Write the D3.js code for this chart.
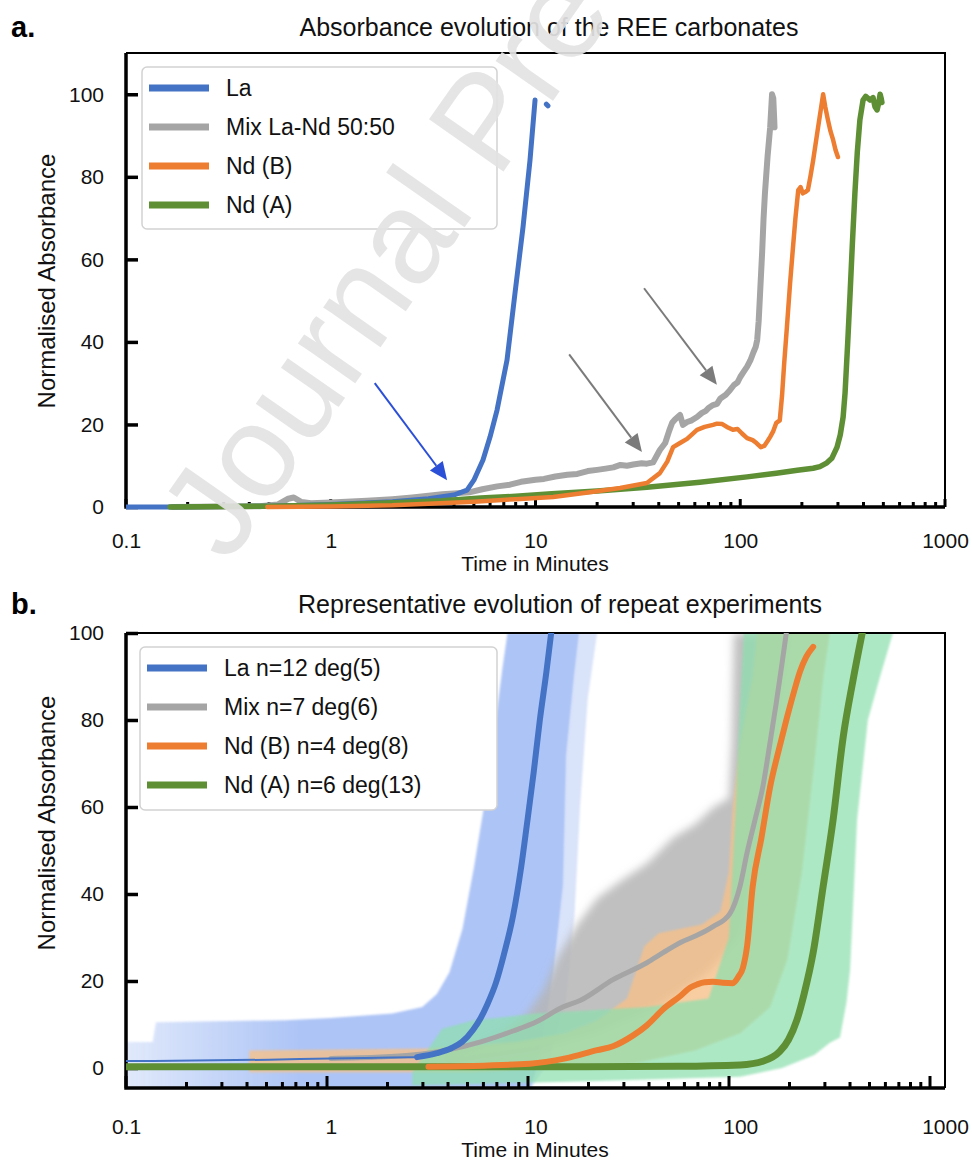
<!DOCTYPE html>
<html>
<head>
<meta charset="utf-8">
<title>REE carbonate absorbance</title>
<script src="https://cdn.jsdelivr.net/npm/d3@7/dist/d3.min.js"></script>
<style>
  body { margin: 0; background: #fff; }
  svg { display: block; font-family: "Liberation Sans", Arial, Helvetica, sans-serif; }
</style>
</head>
<body>
<svg id="chart" width="972" height="1160"></svg>
<script>
// ---- panel a: single runs, [minutes, normalised absorbance] ----
const laRun = [[0.1,0],[0.16,0],[0.5,0.2],[1,0.6],[2,1.3],[3,2.0],[4,2.9],[4.63,4.1],[5.0,6.5],[5.54,11.4],
  [6.0,17],[6.49,23.5],[7.26,35.6],[7.94,51.8],[8.69,67.8],[9.4,84],[9.95,98.6],[10.6,null],[11.3,97.6],[11.5,97.2]];
const mixRun = [[0.17,0],[0.45,0.2],[0.55,0.6],[0.62,2.0],[0.66,2.3],[0.72,1.2],[0.8,0.9],[1,1.1],[1.5,1.5],[2,1.9],
  [2.5,2.3],[3,2.7],[3.5,3.1],[4,3.3],[4.8,3.6],[5.5,4.3],[6.5,5.0],[7.5,5.4],[8.5,6.1],[10,6.6],[11,6.8],[12.5,7.4],
  [14.3,7.8],[16,8.0],[18,8.7],[20,9.0],[22,9.3],[24,9.6],[26,10.2],[28,10.0],[30,10.3],[33,10.6],[35,10.5],[37.5,10.8],
  [40.5,13.8],[43,15.5],[45,18.5],[46.5,20.4],[48,21.2],[50.8,22.3],[52.5,19.9],[55,20.6],[58,21.0],[61.5,21.8],
  [65,22.8],[68,23.3],[70,24.0],[73.6,24.7],[77,25.0],[80,26.3],[85,27.2],[89,28.3],[93,29.5],[97,30.2],[100,31.5],
  [104,32.8],[108,34.0],[112,35.5],[116,37.5],[119,38.8],[121,40.5],[123,45],[125,51.8],[128,62],[130,70],[132,76],
  [136,85],[140,92],[143,100],[145,99],[146.5,94],[147,92]];
const ndBRun = [[0.49,0],[1,0.1],[2,0.4],[3,0.8],[5,1.3],[8,1.9],[12.2,2.4],[18,3.5],[25.9,4.6],[35,5.8],[40.5,8.2],
  [44,11],[47,14.5],[50.8,15.5],[55,16.5],[61.5,18.7],[67,19.4],[73.6,19.9],[77,20.2],[81.7,20.1],[86,19.4],[92,18.7],
  [97,18.9],[102,17.8],[108,16.7],[115,16.2],[120,15.5],[126,14.5],[131,14.8],[136,16.0],[140,17],[145,18.4],[150,20.4],
  [156,21],[160,27],[164,35],[169,43.6],[175,54],[181,63],[186,70],[192,76.8],[197,77.5],[202,76],[208,76.3],[214,76.8],
  [220,80],[227,84],[240,92],[254,100],[260,97],[268,93.8],[276,91],[284,89],[292,86.5],[300,84.8]];
const ndARun = [[0.164,0],[0.5,0.2],[1,0.5],[2,1.0],[3.5,1.5],[5.4,2.2],[8,2.6],[12,3.2],[20,3.9],[35,4.8],[63.5,6.0],
  [108,7.3],[150,8.2],[190,8.9],[227,9.4],[245,9.8],[265,10.7],[280,11.8],[297,14.5],[308,17.5],[318,21.8],[325,27.6],
  [335,40],[344,51.8],[353,64],[363,76],[373,86],[384,93.8],[398,98.6],[410,99.5],[431,98.6],[445,99.2],[455,97],
  [466,96.2],[475,98],[482,100],[488,99],[492,98]];
// annotation arrows, start and tip in data units
const arrowsA = [[[1.64,30],[3.7,6.5]], [[14.6,37],[33.1,13.3]], [[33.9,53],[76.9,29.6]]];

// ---- panel b: representative curves ----
const laMean = [[0.1,1.6],[0.5,1.9],[1,2.2],[2,2.4],[2.64,2.5],[3.3,3.4],[3.9,4.6],[4.38,6],[4.96,8.8],[5.4,11.5],
  [5.8,14.5],[6.4,19.5],[7.0,26],[7.77,35],[8.5,46],[9.08,56],[9.8,68],[10.5,80],[11.3,91],[12.0,101]];
const mixMean = [[1,2.2],[1.74,2.5],[2.5,3.0],[3.7,4.1],[5.4,6],[7.77,8.5],[10,10.5],[13.6,14],[16.5,15.5],[23.9,20.3],
  [35,24.2],[42,26.5],[50.8,28.8],[61.5,30.5],[73.6,32.5],[89,35.5],[100,42],[108,49.5],[118,57],[129,64.7],[140,75],
  [150,84],[160,93],[169,101]];
const ndBMean = [[3,0.3],[9.4,1.0],[14,2.2],[20,4.1],[23.9,5.0],[30,7.5],[35,9.8],[42,13.5],[50.8,16.5],[57,18.5],
  [61.5,19.2],[67,19.7],[73.6,19.8],[82,19.6],[92,19.5],[98,21],[103,23],[108,28],[115,41.7],[127,53],[140,64.7],
  [155,73.5],[169,80.5],[183,86.5],[196,91.2],[210,94.5],[227,96.8]];
const ndAMean = [[0.1,0.3],[10,0.3],[50,0.4],[100,0.7],[130,1.6],[156,3.8],[172,6.5],[189,11],[205,17],[227,26.5],
  [254,41.7],[284,57],[318,76],[355,89],[398,101]];

// spread of the repeat runs: upper-left and lower-right envelopes
const laUpper = [[0.1,6],[0.135,6],[0.14,10.5],[0.6,11],[1,11.5],[2,12.5],[2.8,14],[3.3,17],[3.8,22],[4.4,32],
  [5.0,46],[5.6,60],[6.2,75],[6.9,92],[7.3,100]];
const laLower = [[0.1,-4.6],[9.5,-4.6],[10.2,0],[11.2,10],[12.3,22],[13.7,42],[14.2,72],[15.5,90],[16.4,100]];
const laOuter = [[9.5,-4.6],[11.8,2],[14,15],[15.5,35],[16.5,60],[18,85],[20,100]];
const mixUpper = [[3.5,3],[6,6],[9,12],[11,18],[13,26],[16,33],[20,39],[26,43],[35,47],[47,53],[60,56],[74,60],
  [88,62],[91,75],[93,100]];
const mixLower = [[3.5,1],[10,4],[20,8],[40,14],[70,22],[100,30],[130,55],[150,80],[175,100]];
const ndBUpper = [[0.4,4],[3,4.5],[8,6],[14,8],[20,11],[28,16],[34,28],[40,31],[65,33],[80,36],[88,45],[92,60],
  [100,75],[115,90],[121,100]];
const ndBLower = [[0.4,-1],[5,-1],[30,1],[60,4],[100,8],[140,14],[170,25],[200,45],[230,70],[255,90],[274,100]];
const ndAUpper = [[2.5,-1],[3.5,9],[5,11],[10,12.5],[35,14],[70,16],[88,30],[95,60],[100,85],[104,100]];
const ndALower = [[2.5,-4],[20,-3],[100,-2],[160,0],[230,3],[274,5.8],[307,7],[330,15],[344,22.6],[372,57],
  [420,80],[482,90],[557,100]];

const seriesA = ['La', 'Mix La-Nd 50:50', 'Nd (B)', 'Nd (A)'];
const seriesB = ['La n=12 deg(5)', 'Mix n=7 deg(6)', 'Nd (B) n=4 deg(8)', 'Nd (A) n=6 deg(13)'];
const yTickValues = [0, 20, 40, 60, 80, 100];
const xTickLabels = [0.1, 1, 10, 100, 1000];

const colors = ['#4472c4', '#a5a5a5', '#ed7d31', '#5e8f35'];
const font = '"Liberation Sans", Arial, sans-serif';

const svg = d3.select('#chart');
const defs = svg.append('defs');

const x = d3.scaleLog().domain([0.1, 1000]).range([126, 945]);
// panel b tick marks were laid on a slightly shorter ruler than its labels
const xMarksB = d3.scaleLog().domain([0.1, 1000]).range([126, 930]);
const yA = d3.scaleLinear().domain([0, 110]).range([507, 53]);
const yB = d3.scaleLinear().domain([-4.6, 100]).range([1088, 633]);

const isDecade = d => Math.abs(Math.log10(d) - Math.round(Math.log10(d))) < 1e-6;

function drawAxes(y, top, bottom, marks, majorLen, minorLen, labelPad) {
  const g = svg.append('g');
  g.append('path')
    .attr('d', `M${x(0.1)},${top}H${x(1000)}V${bottom}`)
    .attr('fill', 'none').attr('stroke', '#000').attr('stroke-width', 2);

  const ya = g.append('g')
    .attr('transform', `translate(${x(0.1)},0)`)
    .call(d3.axisLeft(y).tickValues(yTickValues).tickSize(-12).tickPadding(22));
  ya.attr('font-family', font).attr('font-size', 21);
  ya.select('.domain').remove();
  ya.selectAll('.tick line').attr('stroke', '#000').attr('stroke-width', 3.5);
  ya.selectAll('.tick text').attr('fill', '#111');

  const xa = g.append('g')
    .attr('transform', `translate(0,${bottom})`)
    .call(d3.axisBottom(x).tickValues(xTickLabels).tickFormat(d3.format('~g')).tickSize(0).tickPadding(labelPad));
  xa.attr('font-family', font).attr('font-size', 21);
  xa.select('.domain').remove();
  xa.selectAll('.tick text').attr('fill', '#111');

  // log tick marks pointing into the plot
  g.append('g').selectAll('line')
    .data(marks.ticks())
    .join('line')
    .attr('x1', d => marks(d)).attr('x2', d => marks(d))
    .attr('y1', bottom)
    .attr('y2', d => bottom - (isDecade(d) ? majorLen : minorLen))
    .attr('stroke', '#000').attr('stroke-width', 3);

  g.append('path')
    .attr('d', `M${x(0.1)},${top}V${bottom}H${x(1000)}`)
    .attr('fill', 'none').attr('stroke', '#000').attr('stroke-width', 3.5);
}

function drawLegend(x0, y0, w, h, labels) {
  const g = svg.append('g');
  g.append('rect')
    .attr('x', x0).attr('y', y0).attr('width', w).attr('height', h).attr('rx', 5)
    .attr('fill', '#fff').attr('stroke', '#d2d2d2').attr('stroke-width', 1.5);
  const row = g.selectAll('g.item')
    .data(labels)
    .join('g')
    .attr('class', 'item')
    .attr('transform', (d, i) => `translate(${x0 + 7},${y0 + 21 + i * 39})`);
  row.append('line')
    .attr('x1', 0).attr('x2', 60)
    .attr('stroke', (d, i) => colors[i]).attr('stroke-width', 7);
  row.append('text')
    .attr('x', 77).attr('dy', '0.35em')
    .attr('font-size', 23).attr('fill', '#111')
    .text(d => d);
}

function drawTitles(letter, title, titleX, baseline, xLabelBase, yLabelMid) {
  svg.append('text').attr('x', 11).attr('y', baseline + 1)
    .attr('font-size', 29).attr('font-weight', 'bold').text(letter);
  svg.append('text').attr('x', titleX).attr('y', baseline)
    .attr('text-anchor', 'middle').attr('font-size', 25).attr('fill', '#111').text(title);
  svg.append('text').attr('x', 535).attr('y', xLabelBase)
    .attr('text-anchor', 'middle').attr('font-size', 21).attr('fill', '#111').text('Time in Minutes');
  svg.append('text')
    .attr('transform', `translate(55,${yLabelMid}) rotate(-90)`)
    .attr('text-anchor', 'middle').attr('font-size', 24).attr('fill', '#111').text('Normalised Absorbance');
}

// ---------------- panel a ----------------
drawTitles('a.', 'Absorbance evolution of the REE carbonates', 549, 36, 571, 281);
drawAxes(yA, 53, 507, x, 8, 5, 26);

defs.append('clipPath').attr('id', 'clipA')
  .append('rect').attr('x', 126).attr('y', 53).attr('width', 819).attr('height', 460);

const lineA = d3.line().defined(d => d[1] != null).x(d => x(d[0])).y(d => yA(d[1]));
const runsA = svg.append('g').attr('clip-path', 'url(#clipA)');
[[mixRun, 1, 6], [laRun, 0, 5], [ndARun, 3, 5.5], [ndBRun, 2, 4.5]].forEach(([data, ci, w]) => {
  runsA.append('path')
    .datum(data)
    .attr('d', lineA)
    .attr('fill', 'none')
    .attr('stroke', colors[ci])
    .attr('stroke-width', w)
    .attr('stroke-linejoin', 'round')
    .attr('stroke-linecap', 'round');
});

// arrows
const arrowColors = ['#2b4fd6', '#7b7b7b', '#7b7b7b'];
arrowsA.forEach(([from, to], i) => {
  const x0 = x(from[0]), y0 = yA(from[1]), x1 = x(to[0]), y1 = yA(to[1]);
  const len = Math.hypot(x1 - x0, y1 - y0);
  const ux = (x1 - x0) / len, uy = (y1 - y0) / len;
  const head = 18, half = 8;
  const bx = x1 - ux * head, by = y1 - uy * head;
  svg.append('line')
    .attr('x1', x0).attr('y1', y0).attr('x2', bx).attr('y2', by)
    .attr('stroke', arrowColors[i]).attr('stroke-width', 2);
  svg.append('path')
    .attr('d', `M${x1},${y1}L${bx - uy * half},${by + ux * half}L${bx + uy * half},${by - ux * half}Z`)
    .attr('fill', arrowColors[i]);
});

drawLegend(142, 67, 355, 162, seriesA);

// ---------------- panel b ----------------
drawTitles('b.', 'Representative evolution of repeat experiments', 560, 613, 1157, 823);

defs.append('clipPath').attr('id', 'clipB')
  .append('rect').attr('x', 126).attr('y', 633).attr('width', 819).attr('height', 455);

const laGrad = defs.append('linearGradient').attr('id', 'laFade')
  .attr('gradientUnits', 'userSpaceOnUse')
  .attr('x1', x(0.1)).attr('x2', x(0.7)).attr('y1', 0).attr('y2', 0);
laGrad.append('stop').attr('offset', 0).attr('stop-color', '#a9c1f5').attr('stop-opacity', 0.35);
laGrad.append('stop').attr('offset', 1).attr('stop-color', '#a9c1f5').attr('stop-opacity', 0.95);

defs.append('filter').attr('id', 'soft').attr('x', '-20%').attr('y', '-20%').attr('width', '140%').attr('height', '140%')
  .append('feGaussianBlur').attr('stdDeviation', 4);
defs.append('filter').attr('id', 'edge')
  .append('feGaussianBlur').attr('stdDeviation', 1.2);

const lineB = d3.line().x(d => x(d[0])).y(d => yB(d[1]));
const bandPath = (upper, lower) => lineB(upper.concat(lower.slice().reverse())) + 'Z';

const bands = svg.append('g').attr('clip-path', 'url(#clipB)');
bands.append('path').attr('d', bandPath(laLower, laOuter))
  .attr('fill', '#d9e3f9').attr('filter', 'url(#edge)');
bands.append('path').attr('d', bandPath(laUpper, laLower))
  .attr('fill', 'url(#laFade)').attr('filter', 'url(#edge)');
bands.append('path').attr('d', bandPath(mixUpper, mixLower))
  .attr('fill', '#b5b5b5').attr('fill-opacity', 0.85).attr('filter', 'url(#soft)');
bands.append('path').attr('d', bandPath(ndBUpper, ndBLower))
  .attr('fill', '#f6c08a').attr('fill-opacity', 0.8).attr('filter', 'url(#edge)');
bands.append('path').attr('d', bandPath(ndAUpper, ndALower))
  .attr('fill', '#8ddfae').attr('fill-opacity', 0.72).attr('filter', 'url(#edge)');

drawAxes(yB, 633, 1088, xMarksB, 12, 6, 31);

const smoothB = d3.line().curve(d3.curveMonotoneX).x(d => x(d[0])).y(d => yB(d[1]));
const means = svg.append('g').attr('clip-path', 'url(#clipB)');
const meanLines = [
  [mixMean, 1, 5],
  [ndAMean, 3, 7],
  [ndBMean, 2, 6],
  [laMean.filter(d => d[0] <= 2.64), 0, 2],
  [laMean.filter(d => d[0] >= 2.64), 0, 6]
];
meanLines.forEach(([data, ci, w]) => {
  means.append('path')
    .datum(data)
    .attr('d', smoothB)
    .attr('fill', 'none')
    .attr('stroke', colors[ci])
    .attr('stroke-width', w)
    .attr('stroke-linejoin', 'round')
    .attr('stroke-linecap', 'round');
});

drawLegend(140, 647, 357, 163, seriesB);

// preprint watermark across panel a
svg.append('text')
  .attr('transform', 'translate(228,565) rotate(-55)')
  .attr('font-size', 132)
  .attr('fill', '#e3e3e3')
  .attr('opacity', 0.92)
  .text('Journal Pre-proof');
</script>
</body>
</html>
